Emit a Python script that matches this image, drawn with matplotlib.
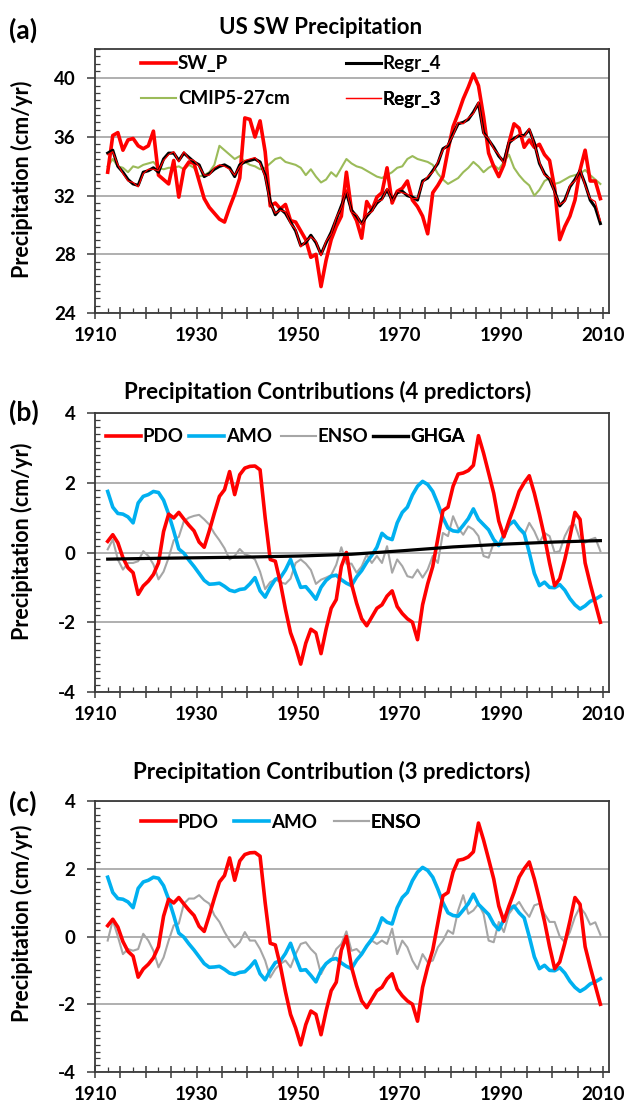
import numpy as np
import matplotlib
matplotlib.use('Agg')
import matplotlib.pyplot as plt
from matplotlib.ticker import MultipleLocator, FuncFormatter
from matplotlib.lines import Line2D

plt.rcParams['font.family'] = ['Lato', 'DejaVu Sans']
plt.rcParams['font.weight'] = 'bold'

# ---------------- data ----------------
years = np.arange(1912, 2010)

sw_p = [33.6, 36.1, 36.3, 35.1, 35.8, 35.9, 35.4, 35.2,
        35.4, 36.4, 33.4, 33.1, 32.8, 34.4, 31.9, 33.8, 34.3, 34.2,
        33.0, 31.8, 31.2, 30.8, 30.4, 30.2, 31.2, 32.1, 33.2, 37.3,
        37.2, 36.0, 37.1, 35.0, 31.3, 31.5, 31.1, 31.4, 30.3, 30.2,
        29.6, 29.0, 27.8, 28.0, 25.8, 27.6, 29.0, 29.9, 30.6, 33.6,
        31.0, 30.3, 29.1, 31.6, 31.0, 31.9, 32.2, 33.9, 31.5, 32.3,
        32.5, 33.0, 31.7, 31.25, 30.6, 29.4, 32.2, 32.7, 33.3, 35.1,
        36.7, 37.6, 38.6, 39.4, 40.3, 39.5, 37.4, 34.9, 34.0, 33.3,
        34.1, 35.6, 36.9, 36.6, 35.3, 35.8, 35.3, 35.5, 34.8, 34.4,
        32.5, 29.0, 29.9, 30.6, 31.7, 33.75, 35.1, 33.0, 33.0, 31.8]

regr_4 = [34.9, 35.1, 34.0, 33.6, 33.1, 32.8, 32.7, 33.6,
          33.7, 33.9, 33.6, 34.5, 34.9, 34.9, 34.4, 34.9, 34.6, 34.3,
          34.1, 33.3, 33.5, 33.8, 34.0, 34.1, 33.9, 33.3, 34.1, 34.3,
          34.4, 34.5, 34.3, 33.4, 31.6, 30.7, 31.1, 30.8, 30.2, 29.6,
          28.6, 28.8, 29.3, 28.8, 28.0, 28.8, 29.5, 30.4, 31.3, 32.2,
          31.0, 30.6, 30.1, 30.6, 31.0, 31.5, 31.8, 32.4, 31.7, 32.2,
          32.3, 32.0, 31.9, 31.7, 33.0, 33.2, 33.7, 34.2, 35.2, 35.4,
          36.2, 36.9, 37.0, 37.2, 37.7, 38.3, 36.3, 35.8, 35.3, 34.7,
          34.3, 35.6, 35.9, 36.1, 36.1, 36.5, 35.6, 34.2, 33.5, 33.1,
          32.3, 31.3, 31.7, 32.6, 33.1, 33.7, 32.8, 31.7, 31.2, 30.1]

regr_3 = [34.8, 35.0, 34.1, 33.5, 33.0, 32.9, 32.6, 33.5,
          33.8, 33.8, 33.7, 34.4, 34.8, 35.0, 34.3, 35.0, 34.5, 34.4,
          34.0, 33.4, 33.4, 33.9, 34.1, 34.0, 33.8, 33.4, 34.0, 34.4,
          34.5, 34.6, 34.2, 33.3, 31.5, 30.8, 31.0, 30.9, 30.1, 29.7,
          28.5, 28.9, 29.2, 28.9, 27.9, 28.9, 29.4, 30.5, 31.2, 32.4,
          30.9, 30.7, 30.0, 30.7, 30.9, 31.6, 31.7, 32.5, 31.6, 32.3,
          32.2, 32.1, 31.8, 31.8, 32.9, 33.3, 33.6, 34.3, 35.1, 35.5,
          36.1, 37.0, 36.9, 37.3, 37.6, 38.4, 36.2, 35.9, 35.2, 34.8,
          34.2, 35.7, 35.8, 36.2, 36.0, 36.6, 35.5, 34.3, 33.4, 33.2,
          32.2, 31.4, 31.6, 32.7, 33.0, 33.8, 32.7, 31.8, 31.6, 30.3]

cmip5 = [34.0, 34.5, 34.0, 33.9, 33.6, 34.0, 33.9, 34.1,
         34.2, 34.3, 33.9, 33.8, 33.9, 33.9, 34.0, 33.8, 34.1, 33.9,
         33.3, 33.4, 33.6, 34.1, 35.4, 35.1, 34.8, 34.5, 34.7, 34.3,
         34.1, 34.0, 33.8, 33.9, 34.2, 34.5, 34.6, 34.3, 34.2, 34.1,
         33.9, 33.4, 33.8, 33.3, 32.9, 33.1, 33.6, 33.3, 33.9, 34.5,
         34.2, 34.0, 33.9, 33.7, 33.5, 33.3, 33.2, 33.4, 33.6, 33.9,
         34.0, 34.5, 34.7, 34.5, 34.4, 34.3, 34.1, 33.5, 33.1, 32.8,
         33.0, 33.2, 33.6, 33.9, 34.3, 34.0, 33.6, 33.9, 34.1, 33.8,
         34.3, 34.8, 33.9, 33.4, 33.0, 32.7, 32.0, 32.4, 33.0, 33.2,
         32.8, 32.9, 33.1, 33.3, 33.4, 33.5, 33.75, 33.4, 33.1, 32.8]

pdo = [0.32, 0.51, 0.28, -0.15, -0.44, -0.58, -1.2, -0.96,
       -0.82, -0.63, -0.30, 0.60, 1.10, 0.99, 1.15, 0.96, 0.78, 0.62,
       0.30, 0.15, 0.62, 1.13, 1.61, 1.80, 2.32, 1.66, 2.23, 2.42,
       2.47, 2.48, 2.37, 1.0, -0.2, -0.25, -0.87, -1.63, -2.3, -2.7,
       -3.2, -2.6, -2.2, -2.3, -2.9, -2.2, -1.6, -1.35, -0.4, 0.0,
       -0.9, -1.45, -1.9, -2.1, -1.85, -1.6, -1.5, -1.25, -1.1, -1.55,
       -1.75, -1.9, -2.0, -2.5, -1.5, -0.9, -0.4, 0.4, 1.2, 1.3,
       1.9, 2.25, 2.28, 2.35, 2.5, 3.35, 2.85, 2.28, 1.7, 0.9,
       0.45, 0.9, 1.3, 1.75, 2.0, 2.2, 1.7, 1.1, 0.45, -0.3,
       -0.95, -0.75, -0.2, 0.45, 1.15, 0.95, -0.3, -0.9, -1.45, -2.0]

amo = [1.75, 1.3, 1.12, 1.1, 1.02, 0.85, 1.42, 1.61,
       1.66, 1.75, 1.72, 1.5, 1.1, 0.62, 0.1, -0.02, -0.22, -0.4,
       -0.6, -0.8, -0.91, -0.9, -0.88, -0.97, -1.08, -1.12, -1.06, -1.04,
       -0.9, -0.72, -1.1, -1.28, -1.0, -0.77, -0.72, -0.5, -0.2, -0.62,
       -1.0, -0.98, -1.15, -1.34, -1.0, -0.8, -0.68, -0.65, -0.78, -0.88,
       -0.95, -0.7, -0.52, -0.28, -0.08, 0.15, 0.55, 0.42, 0.37, 0.85,
       1.15, 1.3, 1.65, 1.9, 2.04, 1.95, 1.75, 1.4, 1.0, 0.7,
       0.62, 0.6, 0.78, 0.97, 1.25, 0.95, 0.8, 0.65, 0.37, 0.2,
       0.5, 0.8, 0.9, 0.7, 0.55, 0.0, -0.6, -0.95, -0.85, -1.0,
       -1.01, -0.92, -1.08, -1.32, -1.5, -1.62, -1.53, -1.4, -1.34, -1.25]

enso_4 = [0.09, 0.37, -0.2, -0.49, -0.3, -0.3, -0.25, 0.04,
          -0.1, -0.34, -0.77, -0.55, -0.15, 0.35, 0.45, 0.9, 1.0, 1.05,
          1.08, 0.95, 0.8, 0.55, 0.35, 0.12, -0.2, -0.1, 0.1, -0.05,
          -0.1, -0.2, -0.55, -1.05, -0.85, -0.77, -0.85, -0.9, -0.75, -0.3,
          -0.2, -0.32, -0.5, -0.9, -0.78, -0.72, -0.65, -0.35, 0.15, -0.32,
          -0.32, -0.58, -0.4, -0.06, -0.3, -0.1, -0.3, 0.18, -0.58, -0.2,
          -0.39, -0.68, -0.72, -0.49, -0.72, -0.49, -0.1, -0.3, 0.56, 0.47,
          1.04, 0.7, 0.51, 0.75, 0.66, 0.47, -0.1, -0.15, 0.28, 0.18,
          0.47, 0.75, 0.9, 0.66, 0.51, 0.85, 0.61, 0.28, 0.56, 0.47,
          0.0, 0.04, 0.47, 0.75, 0.8, 0.37, 0.28, 0.37, 0.42, 0.04]

enso_3 = [-0.12, 0.48, 0.0, -0.52, -0.37, -0.42, -0.37, 0.08,
          -0.12, -0.42, -0.91, -0.62, -0.12, 0.33, 0.38, 0.97, 1.12, 1.12,
          1.22, 1.07, 0.97, 0.63, 0.43, 0.13, -0.12, -0.32, -0.17, 0.13,
          -0.12, -0.12, -0.37, -0.71, -1.21, -0.96, -0.81, -0.71, -0.91, -0.52,
          -0.22, -0.17, -0.37, -0.52, -1.11, -0.81, -0.71, -0.37, -0.22, 0.15,
          -0.42, -0.37, -0.52, -0.27, -0.12, -0.22, -0.12, -0.22, 0.23, -0.52,
          -0.12, -0.32, -0.71, -0.96, -0.52, -0.76, -0.71, -0.32, -0.12, 0.18,
          0.08, 0.77, 1.22, 0.67, 0.77, 0.97, 0.67, -0.12, -0.17, 0.43,
          0.13, 0.67, 0.87, 1.02, 0.77, 0.58, 0.92, 0.97, 0.67, 0.43,
          0.43, 0.0, -0.17, 0.13, 0.58, 0.87, 0.67, 0.35, 0.42, 0.05]

ghga_years = [1912, 1920, 1930, 1940, 1950, 1960, 1970, 1980, 1990, 2000, 2009]
ghga = [-0.19, -0.17, -0.15, -0.13, -0.10, -0.05, 0.05, 0.16, 0.24, 0.30, 0.34]

xtick_labels = ['1910', '1930', '1950', '1970', '1990', '2010']

for s in (sw_p, regr_4, regr_3, cmip5, pdo, amo, enso_4, enso_3):
    assert len(s) == len(years), len(s)

# ---------------- figure ----------------
W, H = 631, 1107
fig = plt.figure(figsize=(W / 100, H / 100), dpi=100)
fig.patch.set_facecolor('white')

def px_axes(left, top, right, bottom):
    return fig.add_axes([left / W, 1 - bottom / H, (right - left) / W, (bottom - top) / H])

axA = px_axes(95, 49, 609, 313)
axB = px_axes(95, 413, 609, 692)
axC = px_axes(95, 801, 609, 1072)

RED = '#ff0000'
GREEN = '#9bbb59'
BLUE = '#00b0f0'
GRAY = '#a6a6a6'
SPINE = '#3a3a3a'

xpos = years + 0.5
gx = np.array(ghga_years) + 0.5

TICK_FS = 13.5
LEG_FS = 13.5
TITLE_FS = 16
YLAB_FS = 15.5


def xfmt(v, pos):
    s = '%d' % round(v)
    return s if s in xtick_labels else ''


def style(ax, ylim, major, minor, ylabel_y):
    ax.set_xlim(1910, 2011.2)
    ax.set_ylim(*ylim)
    ax.yaxis.set_major_locator(MultipleLocator(major))
    ax.yaxis.set_minor_locator(MultipleLocator(minor))
    ax.xaxis.set_major_locator(MultipleLocator(5))
    ax.xaxis.set_minor_locator(MultipleLocator(2.5))
    ax.xaxis.set_major_formatter(FuncFormatter(xfmt))
    ax.yaxis.set_major_formatter(FuncFormatter(lambda v, p: '%d' % round(v)))
    ax.grid(axis='y', which='major', color='#9a9a9a', lw=1.1)
    ax.set_axisbelow(True)
    for sp in ax.spines.values():
        sp.set_color(SPINE)
        sp.set_linewidth(1.3)
    ax.tick_params(axis='y', which='major', direction='out', length=6, width=1.1,
                   color=SPINE, labelsize=TICK_FS, pad=8)
    ax.tick_params(axis='y', which='minor', direction='in', length=3.5, width=0.9, color=SPINE)
    ax.tick_params(axis='x', which='major', direction='inout', length=8, width=1.1,
                   color=SPINE, labelsize=TICK_FS, pad=6)
    ax.tick_params(axis='x', which='minor', direction='in', length=3.5, width=0.9, color=SPINE)
    ax.set_ylabel('Precipitation (cm/yr)', fontsize=YLAB_FS, fontweight='bold')
    ax.yaxis.set_label_coords(-0.121, ylabel_y)


style(axA, (24, 42), 4, 0.5, 0.508)
style(axB, (-4, 4), 2, 0.2, 0.54)
style(axC, (-4, 4), 2, 0.2, 0.55)

# ---- panel (a)
lC, = axA.plot(xpos, cmip5, color=GREEN, lw=1.5)
lS, = axA.plot(xpos, sw_p, color=RED, lw=2.6)
l4, = axA.plot(xpos, regr_4, color='black', lw=2.2)
l3, = axA.plot(xpos, regr_3, color=RED, lw=0.9)

# ---- panel (b)
bG, = axB.plot(xpos, enso_4, color=GRAY, lw=1.5)
bA, = axB.plot(xpos, amo, color=BLUE, lw=2.6)
bP, = axB.plot(xpos, pdo, color=RED, lw=2.6)
bH, = axB.plot(gx, ghga, color='black', lw=2.3)

# ---- panel (c)
cG, = axC.plot(xpos, enso_3, color=GRAY, lw=1.5)
cA, = axC.plot(xpos, amo, color=BLUE, lw=2.6)
cP, = axC.plot(xpos, pdo, color=RED, lw=2.6)


def add_leg(ax, handle, label, x_px, y_px, hl=35):
    fs = LEG_FS
    hlen = hl / (fs * 100 / 72)
    leg = ax.legend([handle], [label], loc='center left',
                    bbox_to_anchor=(x_px / W, 1 - y_px / H), bbox_transform=fig.transFigure,
                    frameon=False, handlelength=hlen, handletextpad=0.1,
                    borderpad=0, borderaxespad=0, prop={'weight': 'bold', 'size': fs})
    ax.add_artist(leg)


add_leg(axA, Line2D([], [], color=RED, lw=2.6), 'SW_P', 141, 64)
add_leg(axA, Line2D([], [], color=GREEN, lw=1.5), 'CMIP5-27cm', 141, 99)
add_leg(axA, Line2D([], [], color='black', lw=2.2), 'Regr_4', 346, 64)
add_leg(axA, Line2D([], [], color=RED, lw=0.9), 'Regr_3', 346, 99)

add_leg(axB, Line2D([], [], color=RED, lw=2.6), 'PDO', 106, 437)
add_leg(axB, Line2D([], [], color=BLUE, lw=2.6), 'AMO', 189, 437)
add_leg(axB, Line2D([], [], color=GRAY, lw=1.5), 'ENSO', 281, 437)
add_leg(axB, Line2D([], [], color='black', lw=2.3), 'GHGA', 373, 437)

add_leg(axC, Line2D([], [], color=RED, lw=2.6), 'PDO', 141, 822)
add_leg(axC, Line2D([], [], color=BLUE, lw=2.6), 'AMO', 234, 822)
add_leg(axC, Line2D([], [], color=GRAY, lw=1.5), 'ENSO', 334, 822)

# titles and panel letters
fig.text(321 / W, 1 - 27 / H, 'US SW Precipitation', ha='center', va='center',
         fontsize=TITLE_FS, fontweight='bold')
fig.text(328 / W, 1 - 392 / H, 'Precipitation Contributions (4 predictors)', ha='center',
         va='center', fontsize=TITLE_FS, fontweight='bold')
fig.text(332 / W, 1 - 772 / H, 'Precipitation Contribution (3 predictors)', ha='center',
         va='center', fontsize=TITLE_FS, fontweight='bold')
for lab, yy in (('(a)', 30), ('(b)', 412), ('(c)', 803)):
    fig.text(9 / W, 1 - yy / H, lab, ha='left', va='center', fontsize=19, fontweight='bold')

fig.savefig('out.png', dpi=100, facecolor='white')
